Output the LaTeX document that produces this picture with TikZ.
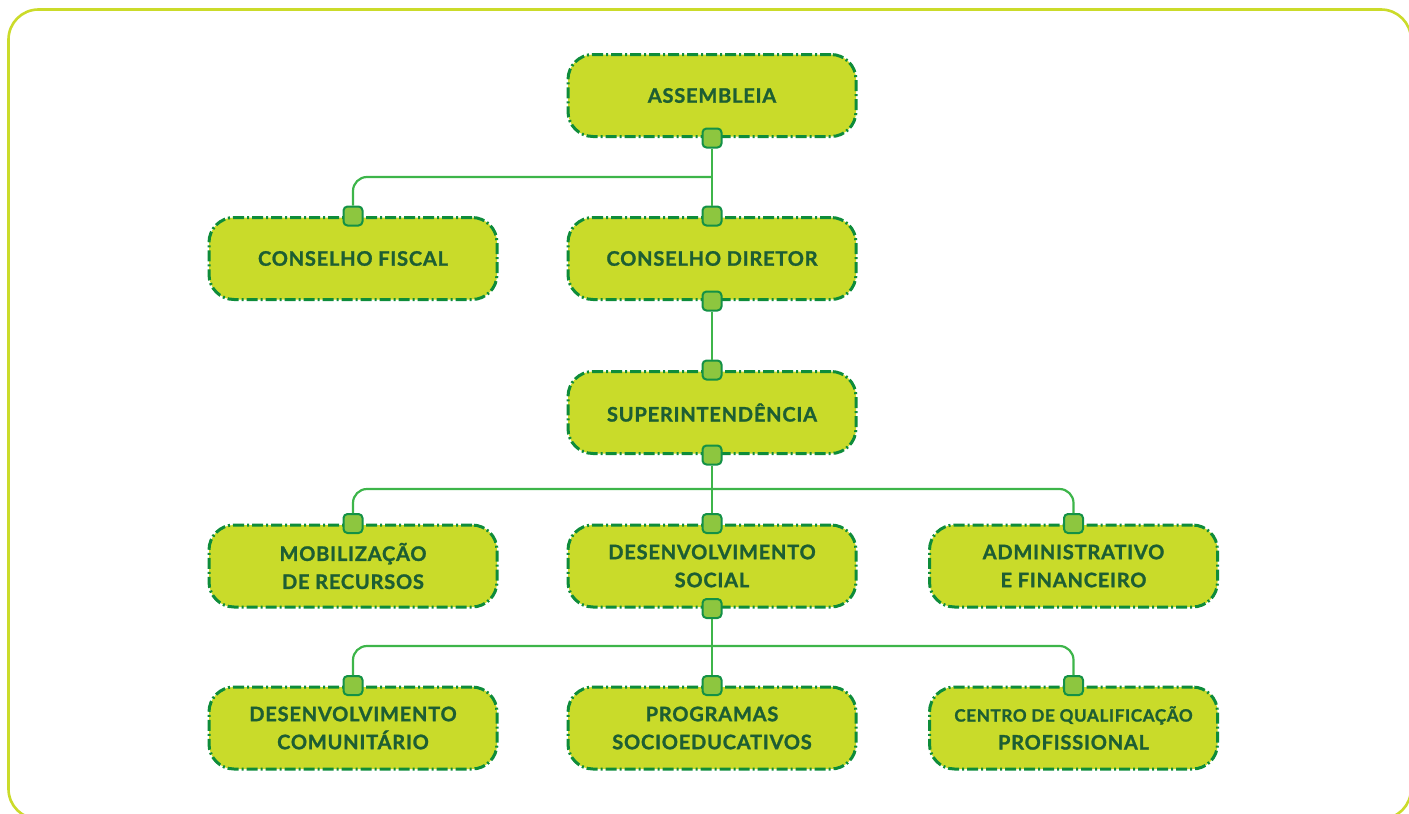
\documentclass[tikz,border=0pt]{standalone}
\usepackage{fontspec}
\newfontfamily\boxfont[LetterSpace=4.0, BoldFeatures={FakeBold=1.3}]{Lato}
\definecolor{boxfill}{HTML}{C9DB2A}
\definecolor{boxline}{HTML}{0E8C3A}
\definecolor{boxtext}{HTML}{1D5E33}
\definecolor{connline}{HTML}{3DB54A}
\definecolor{sqfill}{HTML}{8DC63F}
\definecolor{sqline}{HTML}{139146}
\definecolor{framecol}{HTML}{CBDB2A}
\tikzset{
  orgbox/.style={draw=boxline, fill=boxfill, line width=3pt,
    dash pattern=on 11pt off 3pt on 2pt off 3pt,
    rounded corners=25pt, minimum width=288pt, minimum height=82pt,
    align=center, text=boxtext, font=\boxfont\bfseries\fontsize{20}{28}\selectfont,
    inner sep=0pt},
  sq/.style={draw=sqline, fill=sqfill, line width=2pt, rounded corners=4pt,
    minimum width=19pt, minimum height=19pt, inner sep=0pt},
  conn/.style={draw=connline, line width=2.2pt, rounded corners=14pt},
  frame/.style={draw=framecol, line width=2.6pt, rounded corners=30pt}
}
\begin{document}
\begin{tikzpicture}[x=1pt,y=-1pt]
\useasboundingbox (0,0) rectangle (1409,814);
\draw[frame] (8.5,9.5) rectangle (1411,819);

% boxes
\node[orgbox] (as) at (712,95.5) {ASSEMBLEIA};
\node[orgbox] (cf) at (353,258.5) {CONSELHO FISCAL};
\node[orgbox] (cd) at (712,258.5) {CONSELHO DIRETOR};
\node[orgbox] (su) at (712,412.5) {SUPERINTENDÊNCIA};
\node[orgbox] (mr) at (353,566) {MOBILIZAÇÃO\\DE RECURSOS};
\node[orgbox] (ds) at (712,566) {DESENVOLVIMENTO\\SOCIAL};
\node[orgbox] (af) at (1073.5,566) {ADMINISTRATIVO\\E FINANCEIRO};
\node[orgbox] (dc) at (353,728) {DESENVOLVIMENTO\\COMUNITÁRIO};
\node[orgbox] (ps) at (712,728) {PROGRAMAS\\SOCIOEDUCATIVOS};
\node[orgbox] (cq) at (1073.5,728) {{\fontsize{17}{28}\selectfont CENTRO DE QUALIFICAÇÃO}\\PROFISSIONAL};

% connector squares
\node[sq] (as-b) at (as.south) {};
\node[sq] (cf-t) at (cf.north) {};
\node[sq] (cd-t) at (cd.north) {};
\node[sq] (cd-b) at (cd.south) {};
\node[sq] (su-t) at (su.north) {};
\node[sq] (su-b) at (su.south) {};
\node[sq] (mr-t) at (mr.north) {};
\node[sq] (ds-t) at (ds.north) {};
\node[sq] (af-t) at (af.north) {};
\node[sq] (ds-b) at (ds.south) {};
\node[sq] (dc-t) at (dc.north) {};
\node[sq] (ps-t) at (ps.north) {};
\node[sq] (cq-t) at (cq.north) {};

% branch points
\coordinate (br1) at (712,177);
\coordinate (br3) at (712,489);
\coordinate (br4) at (712,646);

% connectors
\draw[conn] (as-b.south) -- (cd-t.north);
\draw[conn] (br1) -| (cf-t.north);
\draw[conn] (cd-b.south) -- (su-t.north);
\draw[conn] (su-b.south) -- (ds-t.north);
\draw[conn] (mr-t.north) |- (br3) -| (af-t.north);
\draw[conn] (ds-b.south) -- (ps-t.north);
\draw[conn] (dc-t.north) |- (br4) -| (cq-t.north);
\end{tikzpicture}
\end{document}
